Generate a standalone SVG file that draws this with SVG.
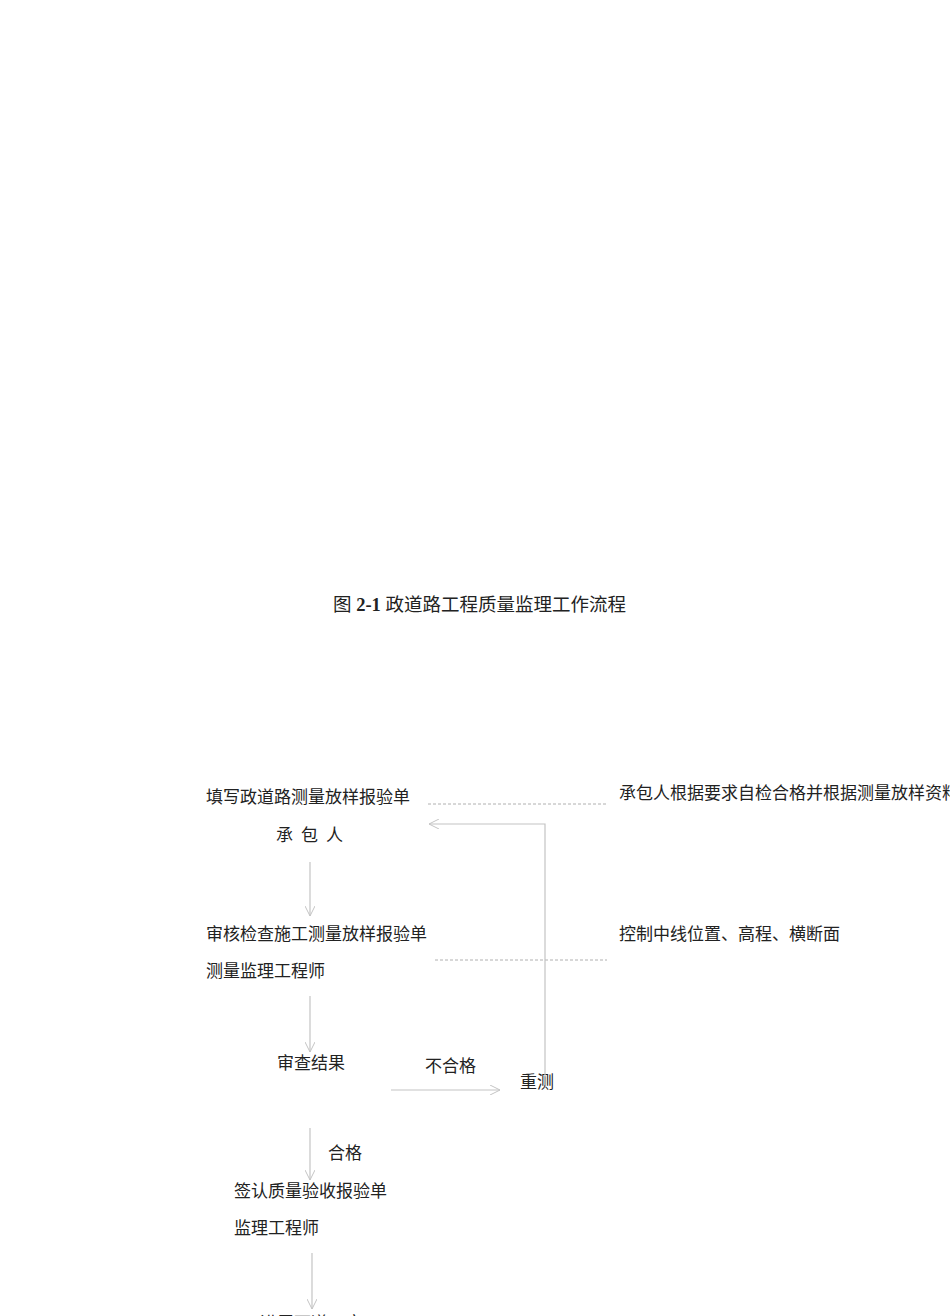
<svg xmlns="http://www.w3.org/2000/svg" width="950" height="1316" viewBox="0 0 950 1316">
<defs>
<style>
text{font-family:"Liberation Serif","Noto Sans CJK SC",serif;font-size:17px;fill:#222;}
.t{font-size:18.5px;}
.b{font-weight:bold;}
.ln{stroke:#c4c4c4;stroke-width:1.2;fill:none;}
.ds{stroke:#b0b0b0;stroke-width:1;stroke-dasharray:3,2;fill:none;}
</style>
<marker id="ah" viewBox="0 0 10 10" refX="10" refY="5" markerWidth="10" markerHeight="10" markerUnits="userSpaceOnUse" orient="auto">
<path d="M0,0 L10,5 L0,10" fill="none" stroke="#c4c4c4" stroke-width="1"/>
</marker>
</defs>
<rect width="950" height="1316" fill="#fff"/>
<g id="title"><text class="t" x="333" y="611">图 <tspan class="b">2-1</tspan> 政道路工程质量监理工作流程</text></g>
<g id="n1"><text x="206" y="803">填写政道路测量放样报验单</text>
<text x="276" y="841">承</text><text x="301" y="841">包</text><text x="326" y="841">人</text></g>
<g id="note1"><text x="619" y="799">承包人根据要求自检合格并根据测量放样资料</text></g>
<g id="n2"><text x="206" y="940">审核检查施工测量放样报验单</text>
<text x="206" y="977">测量监理工程师</text></g>
<g id="note2"><text x="619" y="940">控制中线位置、高程、横断面</text></g>
<g id="n3"><text x="277" y="1069">审查结果</text></g>
<g id="n4"><text x="520" y="1088">重测</text></g>
<g id="n5"><text x="234" y="1197">签认质量验收报验单</text>
<text x="234" y="1234">监理工程师</text></g>
<g id="n6"><text x="260" y="1329">进展下道工序</text></g>
<g id="labels"><text x="425" y="1072">不合格</text><text x="328" y="1159">合格</text></g>
<g id="connectors">
<line class="ds" x1="428" y1="804" x2="606" y2="804"/>
<line class="ds" x1="435" y1="960" x2="607" y2="960"/>
<polyline class="ln" points="545,1085 545,824 429,824" marker-end="url(#ah)"/>
<line class="ln" x1="310" y1="862" x2="310" y2="916" marker-end="url(#ah)"/>
<line class="ln" x1="310" y1="996" x2="310" y2="1052" marker-end="url(#ah)"/>
<line class="ln" x1="391" y1="1090" x2="500" y2="1090" marker-end="url(#ah)"/>
<line class="ln" x1="310" y1="1128" x2="310" y2="1180" marker-end="url(#ah)"/>
<line class="ln" x1="312" y1="1253" x2="312" y2="1309" marker-end="url(#ah)"/>
</g>
</svg>
